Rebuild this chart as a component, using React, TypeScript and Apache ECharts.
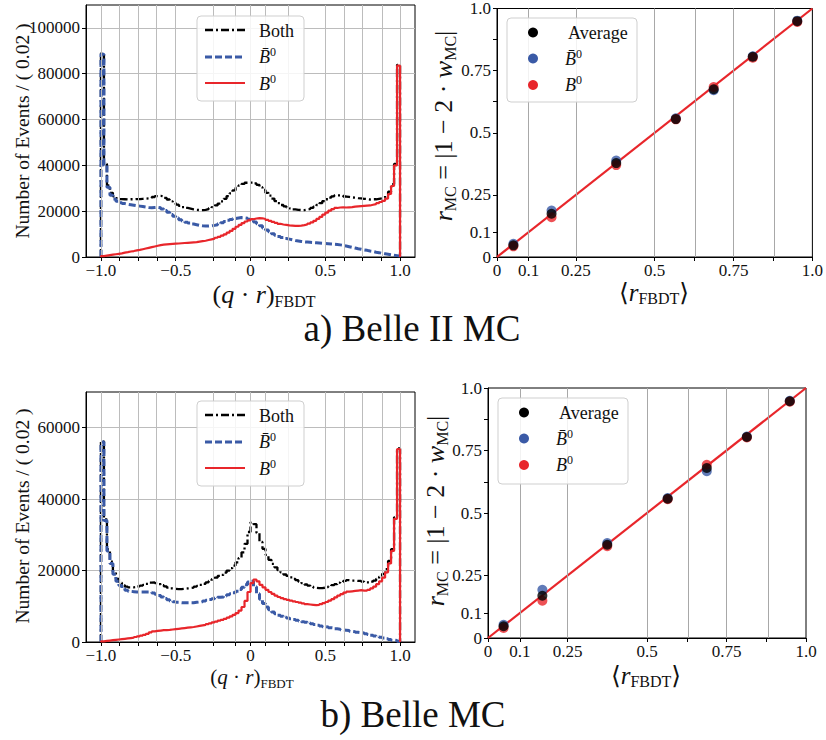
import React, { useEffect, useRef } from "react";
import * as echarts from "echarts";

// ---------- histogram binning ----------
const BIN_START = -1;
const BIN_WIDTH = 0.02;

// Belle II MC, events per bin (thousands), 100 bins from -1 to 1
const belle2Both = [
  88.9, 40.6, 31.3, 28.0, 26.5, 25.7, 25.3, 25.2, 25.1, 25.2,
  25.2, 25.3, 25.3, 25.4, 25.5, 25.6, 25.8, 26.2, 26.6, 26.7,
  26.4, 25.8, 25.1, 24.3, 23.6, 22.9, 22.3, 21.8, 21.4, 21.1,
  20.8, 20.6, 20.5, 20.5, 20.6, 20.9, 21.3, 21.8, 22.5, 23.3,
  24.3, 25.4, 26.6, 27.8, 29.1, 30.2, 31.2, 31.9, 32.4, 32.5,
  32.5, 32.1, 31.5, 30.5, 29.3, 28.0, 26.8, 25.5, 24.4, 23.5,
  22.7, 22.1, 21.6, 21.2, 20.8, 20.6, 20.5, 20.5, 20.7, 21.0,
  21.4, 22.0, 22.7, 23.5, 24.4, 25.2, 25.9, 26.5, 26.9, 26.9,
  26.8, 26.4, 26.2, 26.0, 25.9, 25.7, 25.6, 25.4, 25.3, 25.1,
  25.2, 25.2, 25.4, 25.6, 25.9, 26.7, 28.5, 31.8, 40.6, 83.9,
];
const belle2Bbar = [
  88.5, 40.0, 30.5, 27.0, 25.3, 24.3, 23.7, 23.3, 23.0, 22.8,
  22.6, 22.4, 22.2, 22.0, 21.8, 21.6, 21.5, 21.6, 21.7, 21.5,
  21.0, 20.3, 19.5, 18.6, 17.8, 17.0, 16.3, 15.7, 15.2, 14.8,
  14.4, 14.1, 13.8, 13.6, 13.5, 13.5, 13.6, 13.8, 14.1, 14.5,
  15.0, 15.5, 16.0, 16.4, 16.8, 17.0, 17.2, 17.1, 16.9, 16.5,
  16.0, 15.3, 14.5, 13.6, 12.7, 11.8, 11.0, 10.2, 9.5, 9.0,
  8.5, 8.1, 7.8, 7.5, 7.2, 7.0, 6.8, 6.6, 6.5, 6.4,
  6.3, 6.2, 6.1, 6.0, 5.9, 5.8, 5.7, 5.6, 5.5, 5.3,
  5.1, 4.8, 4.5, 4.2, 3.9, 3.6, 3.4, 3.1, 2.9, 2.6,
  2.4, 2.1, 1.9, 1.6, 1.4, 1.2, 1.0, 0.8, 0.6, 0.4,
];
const belle2B = [
  0.4, 0.6, 0.8, 1.0, 1.2, 1.4, 1.6, 1.9, 2.1, 2.4,
  2.6, 2.9, 3.1, 3.4, 3.7, 4.0, 4.3, 4.6, 4.9, 5.2,
  5.4, 5.5, 5.6, 5.7, 5.8, 5.9, 6.0, 6.1, 6.2, 6.3,
  6.4, 6.5, 6.7, 6.9, 7.1, 7.4, 7.7, 8.0, 8.4, 8.8,
  9.3, 9.9, 10.6, 11.4, 12.3, 13.2, 14.0, 14.8, 15.5, 16.0,
  16.5, 16.8, 17.0, 16.9, 16.6, 16.2, 15.8, 15.3, 14.9, 14.5,
  14.2, 14.0, 13.8, 13.7, 13.6, 13.6, 13.7, 13.9, 14.2, 14.6,
  15.1, 15.8, 16.6, 17.5, 18.5, 19.4, 20.2, 20.9, 21.4, 21.6,
  21.7, 21.6, 21.7, 21.8, 22.0, 22.1, 22.2, 22.3, 22.4, 22.5,
  22.8, 23.1, 23.5, 24.0, 24.5, 25.5, 27.5, 31.0, 40.0, 83.5,
];

// Belle MC, events per bin (thousands)
const belleBoth = [
  56.2, 34.3, 25.9, 22.5, 19.6, 17.7, 16.6, 15.9, 15.5, 15.3,
  15.3, 15.4, 15.6, 15.8, 16.0, 16.3, 16.6, 16.7, 16.5, 16.2,
  15.9, 15.6, 15.2, 15.0, 14.9, 14.8, 14.8, 14.9, 15.0, 15.1,
  15.2, 15.5, 15.7, 16.0, 16.3, 16.7, 17.1, 17.6, 18.0, 18.5,
  18.8, 19.4, 20.0, 20.7, 21.4, 22.3, 23.5, 25.1, 27.5, 30.8,
  33.5, 33.0, 30.5, 28.0, 26.1, 24.4, 23.0, 21.9, 20.9, 20.1,
  19.5, 18.9, 18.5, 18.1, 17.7, 17.3, 16.9, 16.5, 16.1, 15.8,
  15.5, 15.2, 15.1, 15.1, 15.2, 15.4, 15.6, 15.9, 16.2, 16.6,
  16.8, 17.1, 17.3, 17.2, 17.2, 17.1, 17.1, 16.9, 16.7, 16.7,
  16.9, 17.2, 17.7, 18.3, 19.1, 20.4, 22.7, 26.0, 34.9, 54.2,
];
const belleBbar = [
  56.0, 34.0, 25.5, 22.0, 19.0, 17.0, 15.8, 15.0, 14.5, 14.2,
  14.1, 14.0, 14.0, 14.0, 14.0, 14.0, 13.9, 13.7, 13.4, 13.0,
  12.6, 12.2, 11.8, 11.5, 11.3, 11.1, 11.0, 11.0, 11.0, 11.0,
  11.0, 11.1, 11.2, 11.3, 11.5, 11.7, 11.9, 12.1, 12.3, 12.5,
  12.6, 12.9, 13.2, 13.5, 13.8, 14.2, 14.7, 15.3, 16.0, 16.8,
  17.0, 15.5, 13.5, 12.0, 10.8, 9.8, 9.0, 8.4, 7.9, 7.5,
  7.2, 6.9, 6.7, 6.5, 6.3, 6.1, 5.9, 5.7, 5.5, 5.3,
  5.1, 4.9, 4.7, 4.5, 4.3, 4.2, 4.0, 3.9, 3.7, 3.6,
  3.4, 3.3, 3.2, 3.0, 2.9, 2.7, 2.6, 2.5, 2.3, 2.1,
  1.9, 1.7, 1.5, 1.3, 1.1, 0.9, 0.7, 0.5, 0.4, 0.2,
];
const belleB = [
  0.2, 0.3, 0.4, 0.5, 0.6, 0.7, 0.8, 0.9, 1.0, 1.1,
  1.2, 1.4, 1.6, 1.8, 2.0, 2.3, 2.7, 3.0, 3.1, 3.2,
  3.3, 3.35, 3.4, 3.5, 3.6, 3.7, 3.8, 3.9, 4.0, 4.1,
  4.2, 4.35, 4.5, 4.65, 4.8, 5.0, 5.2, 5.5, 5.7, 6.0,
  6.2, 6.5, 6.8, 7.2, 7.6, 8.1, 8.8, 9.8, 11.5, 14.0,
  16.5, 17.5, 17.0, 16.0, 15.3, 14.6, 14.0, 13.5, 13.0, 12.6,
  12.3, 12.0, 11.8, 11.6, 11.4, 11.2, 11.0, 10.8, 10.6, 10.5,
  10.4, 10.3, 10.4, 10.6, 10.9, 11.2, 11.6, 12.0, 12.5, 13.0,
  13.4, 13.8, 14.1, 14.2, 14.3, 14.4, 14.5, 14.4, 14.4, 14.6,
  15.0, 15.5, 16.2, 17.0, 18.0, 19.5, 22.0, 25.5, 34.5, 54.0,
];

// ---------- calibration points ----------
const belle2RFbdt = [0.052, 0.173, 0.378, 0.567, 0.687, 0.811, 0.952];
const belle2RAvg = [0.047, 0.174, 0.378, 0.555, 0.675, 0.806, 0.949];
const belle2RBbar = [0.053, 0.187, 0.388, 0.558, 0.671, 0.808, 0.951];
const belle2RB = [0.043, 0.160, 0.370, 0.554, 0.684, 0.802, 0.946];

const belleRFbdt = [0.049, 0.171, 0.375, 0.565, 0.688, 0.814, 0.949];
const belleRAvg = [0.047, 0.169, 0.373, 0.557, 0.680, 0.804, 0.947];
const belleRBbar = [0.053, 0.193, 0.380, 0.560, 0.667, 0.806, 0.949];
const belleRB = [0.040, 0.149, 0.367, 0.555, 0.693, 0.802, 0.945];

const idealLine = [[0, 0], [1, 1]];

// ---------- ticks ----------
const HIST_X_LABELS = [-1, -0.5, 0, 0.5, 1];
const HIST_X_GRID = [-1, -0.875, -0.75, -0.625, -0.5, -0.25, -0.1, 0, 0.1, 0.25, 0.5, 0.625, 0.75, 0.875, 1];
const HIST_Y_LABELS_A = [0, 20000, 40000, 60000, 80000, 100000];
const HIST_Y_LABELS_B = [0, 20000, 40000, 60000];
const R_LABELS = [0, 0.1, 0.25, 0.5, 0.75, 1];
const R_TICKS = [0, 0.1, 0.25, 0.5, 0.625, 0.75, 0.875, 1];
const R_GRID = [0.1, 0.25, 0.5, 0.625, 0.75, 0.875];

const FONT = "'Liberation Serif', 'DejaVu Serif', serif";
const BLUE = "#3a5aa6";
const RED = "#e8262b";
const GRAY = "#bcbcbc";
const INK = "#111";

function stepData(valsK: number[]) {
  const pts: number[][] = [[BIN_START, 0]];
  valsK.forEach((v, i) => pts.push([+(BIN_START + i * BIN_WIDTH).toFixed(2), v * 1000]));
  const end = +(BIN_START + valsK.length * BIN_WIDTH).toFixed(2);
  pts.push([end, valsK[valsK.length - 1] * 1000]);
  pts.push([end, 0]);
  return pts;
}

const fmtHistX = (v: number) => (v === 0 ? "0" : (v < 0 ? "\u2212" : "") + Math.abs(v).toFixed(1));
const fmtR = (v: number) => (v === 1 ? "1.0" : String(v));

const tickLabel = { fontFamily: FONT, fontSize: 17, color: INK };

function histX(gridIndex: number) {
  return {
    type: "value", gridIndex, min: -1.1, max: 1.1,
    axisLine: { show: true, onZero: false, lineStyle: { color: "#000", width: 1 } },
    axisTick: { show: true, customValues: HIST_X_GRID, length: 4, lineStyle: { color: "#000" } },
    axisLabel: { ...tickLabel, customValues: HIST_X_LABELS, formatter: fmtHistX, margin: 5 },
    splitLine: { show: false },
  };
}
function histY(gridIndex: number, max: number, labels: number[]) {
  return {
    type: "value", gridIndex, min: 0, max, interval: 20000,
    axisLine: { show: true, onZero: false, lineStyle: { color: "#000", width: 1 } },
    axisTick: { show: true, customValues: labels, length: 4, lineStyle: { color: "#000" } },
    axisLabel: { ...tickLabel, customValues: labels, formatter: (v: number) => String(v), margin: 6 },
    splitLine: { show: true, lineStyle: { color: GRAY, width: 1 } },
  };
}
function rAxis(gridIndex: number, isX: boolean) {
  return {
    type: "value", gridIndex, min: 0, max: 1,
    axisLine: { show: true, onZero: false, lineStyle: { color: "#000", width: 1 } },
    axisTick: { show: true, customValues: R_TICKS, length: 4, lineStyle: { color: "#000" } },
    axisLabel: { ...tickLabel, customValues: R_LABELS, formatter: fmtR, margin: isX ? 5 : 6 },
    splitLine: { show: false },
  };
}

function vGrid(axisIndex: number, values: number[], color: string) {
  return {
    type: "line", xAxisIndex: axisIndex, yAxisIndex: axisIndex, data: [], z: 1, silent: true,
    symbol: "none",
    markLine: {
      silent: true, symbol: ["none", "none"], label: { show: false }, animation: false,
      lineStyle: { color, width: 1, type: "solid" },
      emphasis: { disabled: true },
      data: values.map((v) => ({ xAxis: v })),
    },
  };
}

function histSeries(axisIndex: number, both: number[], bbar: number[], b: number[]) {
  return [
    vGrid(axisIndex, HIST_X_GRID, GRAY),
    { name: "Both", type: "line", xAxisIndex: axisIndex, yAxisIndex: axisIndex, step: "end", symbol: "none", z: 3,
      data: stepData(both), lineStyle: { color: "#000", width: 2.3, type: [8, 3, 2, 3] } },
    { name: "Bbar0", type: "line", xAxisIndex: axisIndex, yAxisIndex: axisIndex, step: "end", symbol: "none", z: 4,
      data: stepData(bbar), lineStyle: { color: BLUE, width: 3, type: [7, 3] } },
    { name: "B0", type: "line", xAxisIndex: axisIndex, yAxisIndex: axisIndex, step: "end", symbol: "none", z: 5,
      data: stepData(b), lineStyle: { color: RED, width: 2.2, type: "solid" } },
  ];
}

function calSeries(axisIndex: number, xs: number[], avg: number[], bbar: number[], b: number[]) {
  const pts = (ys: number[]) => xs.map((x, i) => [x, ys[i]]);
  return [
    vGrid(axisIndex, R_GRID, "#a8a8a8"),
    { type: "line", xAxisIndex: axisIndex, yAxisIndex: axisIndex, data: idealLine, symbol: "none", z: 2,
      lineStyle: { color: RED, width: 2.2 } },
    { name: "Bbar0", type: "scatter", xAxisIndex: axisIndex, yAxisIndex: axisIndex, data: pts(bbar), symbolSize: 10, z: 3,
      itemStyle: { color: BLUE } },
    { name: "B0", type: "scatter", xAxisIndex: axisIndex, yAxisIndex: axisIndex, data: pts(b), symbolSize: 10, z: 4,
      itemStyle: { color: RED } },
    { name: "Average", type: "scatter", xAxisIndex: axisIndex, yAxisIndex: axisIndex, data: pts(avg), symbolSize: 10, z: 5,
      itemStyle: { color: "#000" } },
  ];
}

// ---------- graphic helpers ----------
const richBase = (main: number, sub: number) => ({
  n: { fontFamily: FONT, fontSize: main, lineHeight: main + 4, verticalAlign: "middle", fill: INK, color: INK },
  i: { fontFamily: FONT, fontSize: main, fontStyle: "italic", lineHeight: main + 4, verticalAlign: "middle", fill: INK, color: INK },
  s: { fontFamily: FONT, fontSize: sub, lineHeight: sub, verticalAlign: "bottom", fill: INK, color: INK },
  sup: { fontFamily: FONT, fontSize: sub, lineHeight: sub, verticalAlign: "top", fill: INK, color: INK },
});

function text(x: number, y: number, str: string, size: number, opts: any = {}) {
  return {
    type: "text", x, y, z: 100, rotation: opts.rotation || 0,
    style: {
      text: str, fontFamily: FONT, fontSize: size, fill: INK,
      align: opts.align || "center", textAlign: opts.align || "center",
      verticalAlign: "middle", textVerticalAlign: "middle",
      rich: opts.rich,
    },
  };
}

const LEGEND_RICH = richBase(18, 12);
const BBAR_TXT = "{i|B\u0304}{sup|0}";
const B_TXT = "{i|B}{sup|0}";

function histLegend(x0: number, y0: number) {
  const box = { type: "rect", z: 99, shape: { x: x0, y: y0, width: 107, height: 85, r: 4 },
    style: { fill: "rgba(255,255,255,0.85)", stroke: "#cfcfcf", lineWidth: 1 } };
  const ln = (dy: number, stroke: string, width: number, dash: any) => ({
    type: "line", z: 100, shape: { x1: x0 + 8, y1: y0 + dy, x2: x0 + 48, y2: y0 + dy },
    style: { stroke, lineWidth: width, lineDash: dash },
  });
  return [
    box,
    ln(14, "#000", 2.3, [8, 3, 2, 3]),
    ln(41, BLUE, 3, [7, 3]),
    ln(67, RED, 2.2, null),
    text(x0 + 62, y0 + 15, "Both", 18, { align: "left" }),
    text(x0 + 62, y0 + 41, BBAR_TXT, 18, { align: "left", rich: LEGEND_RICH }),
    text(x0 + 62, y0 + 68, B_TXT, 18, { align: "left", rich: LEGEND_RICH }),
  ];
}

function calLegend(x0: number, y0: number, w: number, h: number) {
  const box = { type: "rect", z: 99, shape: { x: x0, y: y0, width: w, height: h, r: 4 },
    style: { fill: "rgba(255,255,255,0.85)", stroke: "#cfcfcf", lineWidth: 1 } };
  const dot = (dy: number, fill: string) => ({
    type: "circle", z: 100, shape: { cx: x0 + 26, cy: y0 + dy, r: 5 }, style: { fill },
  });
  return [
    box,
    dot(14.5, "#000"), dot(40.5, BLUE), dot(67, RED),
    text(x0 + 61, y0 + 14.5, "Average", 18, { align: "left" }),
    text(x0 + 58, y0 + 40.5, BBAR_TXT, 18, { align: "left", rich: LEGEND_RICH }),
    text(x0 + 58, y0 + 67, B_TXT, 18, { align: "left", rich: LEGEND_RICH }),
  ];
}

const QR_TXT = "{n|(}{i|q}{n| \u00b7 }{i|r}{n|)}{s|FBDT}";
const RFBDT_TXT = "{n|\u27e8}{i|r}{s|FBDT}{n|\u27e9}";
const RMC_TXT = "{i|r}{s|MC}{n| = |1 \u2212 2 \u00b7 }{i|w}{s|MC}{n||}";
const HIST_Y_TXT = "Number of Events / ( 0.02 )";

const graphics = [
  // panel a
  text(22, 131, HIST_Y_TXT, 19.5, { rotation: Math.PI / 2 }),
  text(264, 294, QR_TXT, 26, { rich: richBase(26, 16) }),
  ...histLegend(197, 16),
  text(443, 126, RMC_TXT, 26, { rotation: Math.PI / 2, rich: richBase(26, 16) }),
  text(654, 292, RFBDT_TXT, 25, { rich: richBase(25, 16) }),
  ...calLegend(507, 18, 130, 84),
  text(412, 328, "a) Belle II MC", 37),
  // panel b
  text(22, 516, HIST_Y_TXT, 19.5, { rotation: Math.PI / 2 }),
  text(252, 677, QR_TXT, 21, { rich: richBase(21, 13) }),
  ...histLegend(197, 401),
  text(435, 511, RMC_TXT, 26, { rotation: Math.PI / 2, rich: richBase(26, 16) }),
  text(646, 675, RFBDT_TXT, 25, { rich: richBase(25, 16) }),
  ...calLegend(498, 398, 130, 86),
  text(413, 714, "b) Belle MC", 37),
];

const gridStyle = { show: true, borderColor: "#000", borderWidth: 1, backgroundColor: "transparent", containLabel: false };

const option: any = {
  animation: false,
  backgroundColor: "#fff",
  textStyle: { fontFamily: FONT },
  grid: [
    { ...gridStyle, left: 86, top: 5, width: 329, height: 252 },
    { ...gridStyle, left: 497, top: 7, width: 317, height: 250 },
    { ...gridStyle, left: 86, top: 392, width: 329, height: 250 },
    { ...gridStyle, left: 488, top: 388, width: 318, height: 250 },
  ],
  xAxis: [histX(0), rAxis(1, true), histX(2), rAxis(3, true)],
  yAxis: [histY(0, 110000, HIST_Y_LABELS_A), rAxis(1, false), histY(2, 70000, HIST_Y_LABELS_B), rAxis(3, false)],
  series: [
    ...histSeries(0, belle2Both, belle2Bbar, belle2B),
    ...calSeries(1, belle2RFbdt, belle2RAvg, belle2RBbar, belle2RB),
    ...histSeries(2, belleBoth, belleBbar, belleB),
    ...calSeries(3, belleRFbdt, belleRAvg, belleRBbar, belleRB),
  ],
  graphic: { elements: graphics },
};

export default function App() {
  const ref = useRef<HTMLDivElement>(null);
  useEffect(() => {
    const chart = echarts.init(ref.current as HTMLDivElement, null, { renderer: "svg" });
    chart.setOption(option);
    return () => chart.dispose();
  }, []);
  return (
    <div
      ref={ref}
      style={{ position: "absolute", left: 0, top: 0, width: 826, height: 740, background: "#fff" }}
    />
  );
}
